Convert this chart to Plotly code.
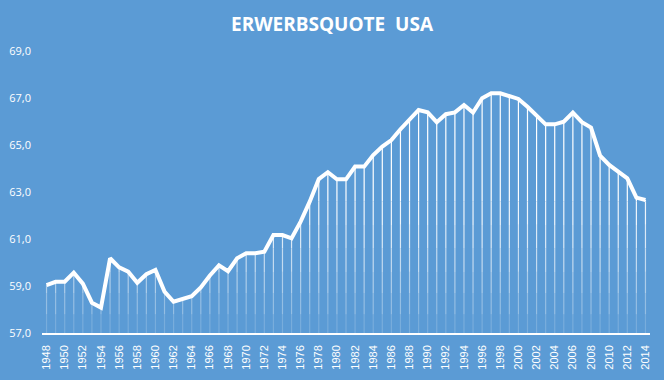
import plotly.graph_objects as go

years = list(range(1948, 2015))
values = [
    59.04, 59.18, 59.18, 59.57, 59.10, 58.29, 58.08, 60.18, 59.79, 59.61,
    59.14, 59.50, 59.68, 58.76, 58.33, 58.43, 58.57, 58.94, 59.45, 59.88,
    59.63, 60.18, 60.39, 60.39, 60.46, 61.17, 61.17, 61.03, 61.74, 62.59,
    63.55, 63.84, 63.54, 63.54, 64.08, 64.08, 64.57, 64.93, 65.21, 65.67,
    66.09, 66.49, 66.39, 65.97, 66.31, 66.39, 66.70, 66.38, 66.99, 67.20,
    67.20, 67.06, 66.96, 66.63, 66.28, 65.88, 65.88, 65.99, 66.38, 65.97,
    65.74, 64.55, 64.15, 63.87, 63.58, 62.76, 62.66,
]
tick_years = list(range(1948, 2015, 2))
y_ticks = [57, 59, 61, 63, 65, 67, 69]
title = "ERWERBSQUOTE\u00a0\u00a0USA"

BASE = 57.0
BG = "#5B9BD5"

fig = go.Figure()

# drop lines, fading toward the baseline (segments with decreasing opacity)
bands = [(62.6, 1.0), (61.6, 0.9), (60.6, 0.78), (59.6, 0.64),
         (58.7, 0.5), (57.8, 0.35), (57.0, 0.18)]
upper = list(values)
for low, alpha in bands:
    tops = [min(v, u) for v, u in zip(values, upper)]
    fig.add_trace(go.Scatter(
        x=years, y=tops, mode="markers",
        marker=dict(size=1, opacity=0),
        error_y=dict(type="data", symmetric=False,
                     array=[0] * len(values),
                     arrayminus=[max(t - low, 0) for t in tops],
                     color=f"rgba(255,255,255,{alpha})", thickness=1.2, width=0),
        hoverinfo="skip", showlegend=False,
    ))
    upper = [min(u, low) for u in upper]

fig.add_trace(go.Scatter(
    x=years, y=values, mode="lines",
    line=dict(color="white", width=4),
    showlegend=False,
))

fig.update_layout(
    width=664, height=380,
    paper_bgcolor=BG, plot_bgcolor=BG,
    margin=dict(l=42, r=14, t=51, b=47),
    separators=",.",
    title=dict(text=title, x=0.5, xanchor="center", y=0.935, yanchor="middle",
               font=dict(family="Open Sans", size=19, color="white", weight="bold")),
    xaxis=dict(range=[1947.5, 2014.5], tickmode="array", tickvals=tick_years,
               ticktext=[str(y) for y in tick_years], tickangle=-90,
               showgrid=False, zeroline=False, showline=True, linecolor="white",
               linewidth=1.5, ticks="", ticklabelstandoff=6, automargin=False,
               tickfont=dict(family="Liberation Sans", size=11, color="white")),
    yaxis=dict(range=[57, 69], tickmode="array", tickvals=y_ticks,
               tickformat=".1f", showgrid=False, zeroline=False, showline=False,
               ticks="", ticklabelstandoff=10, automargin=False,
               tickfont=dict(family="Open Sans", size=11, color="white")),
)

fig.write_html("out.html", config={"displayModeBar": False},
               post_script="document.body.style.margin='0';document.body.style.background='" + BG + "';")
